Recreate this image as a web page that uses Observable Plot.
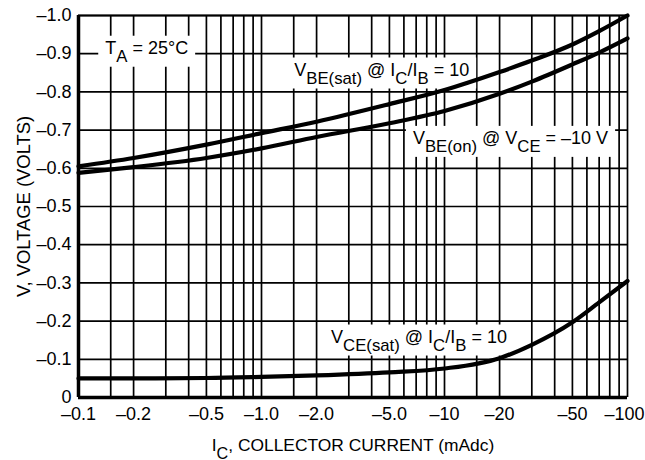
<!DOCTYPE html>
<html>
<head>
<meta charset="utf-8">
<script src="https://cdn.jsdelivr.net/npm/d3@7"></script>
<script src="https://cdn.jsdelivr.net/npm/@observablehq/plot@0.6"></script>
<style>
  html, body { margin: 0; padding: 0; background: #fff; }
</style>
</head>
<body>
<div id="chart"></div>
<script>
// Collector current (mA) sample points
const ic = [-0.1, -0.2, -0.5, -1, -2, -5, -10, -20, -30, -50, -70, -100];
// V_BE(sat) @ IC/IB = 10
const vbeSat = [-0.605, -0.627, -0.662, -0.692, -0.722, -0.768, -0.805, -0.852, -0.882, -0.924, -0.959, -1.0];
// V_BE(on) @ VCE = -10 V
const vbeOn = [-0.588, -0.603, -0.627, -0.652, -0.682, -0.718, -0.750, -0.795, -0.827, -0.872, -0.903, -0.940];
// V_CE(sat) @ IC/IB = 10
const vceSat = [-0.050, -0.050, -0.051, -0.054, -0.058, -0.066, -0.076, -0.103, -0.138, -0.197, -0.249, -0.305];

const seriesNames = ["VBE(sat)", "VBE(on)", "VCE(sat)"];

const xTicks = [-0.1, -0.2, -0.5, -1, -2, -5, -10, -20, -50, -100];
const xTickLabels = ["–0.1", "–0.2", "–0.5", "–1.0", "–2.0", "–5.0", "–10", "–20", "–50", "–100"];
const yTicks = [0, -0.1, -0.2, -0.3, -0.4, -0.5, -0.6, -0.7, -0.8, -0.9, -1.0];
const yTickLabels = ["0", "–0.1", "–0.2", "–0.3", "–0.4", "–0.5", "–0.6", "–0.7", "–0.8", "–0.9", "–1.0"];
const gridMantissas = [1, 1.5, 2, 3, 4, 5, 6, 7, 8, 9];
const gridDecades = [-0.1, -1, -10];

const annoText = ["T_{A} = 25°C", "V_{BE(sat)} @ I_{C}/I_{B} = 10", "V_{BE(on)} @ V_{CE} = –10 V", "V_{CE(sat)} @ I_{C}/I_{B} = 10"];
const annoX = [-0.14, -1.51, -6.72, -2.40];
const annoY = [-0.915, -0.858, -0.679, -0.159];

const xLabel = "I_{C}, COLLECTOR CURRENT (mAdc)";
const yLabel = "V, VOLTAGE (VOLTS)";

// build tables
const xGrid = gridDecades.flatMap(d => gridMantissas.map(m => d * m)).concat([-100]);
const seriesValues = [vbeSat, vbeOn, vceSat];
const rows = seriesValues.flatMap((vals, s) => ic.map((x, i) => ({series: seriesNames[s], ic: x, v: vals[i]})));
const annos = annoText.map((t, i) => ({text: t, x: annoX[i], y: annoY[i]}));

const FONT = "'Liberation Sans', Arial, Helvetica, sans-serif";

const chart = Plot.plot({
  width: 645,
  height: 460,
  marginLeft: 78,
  marginRight: 18,
  marginTop: 15,
  marginBottom: 63,
  style: {fontFamily: FONT, fontSize: "18px", color: "black", background: "white"},
  x: {type: "log", domain: [-0.1, -100]},
  y: {domain: [0, -1.0]},
  marks: [
    Plot.gridX(xGrid, {stroke: "black", strokeOpacity: 1, strokeWidth: 1.7}),
    Plot.gridY(yTicks, {stroke: "black", strokeOpacity: 1, strokeWidth: 1.7}),
    Plot.ruleX([-0.1], {stroke: "black", strokeWidth: 3.5}),
    Plot.ruleY([0], {stroke: "black", strokeWidth: 3.5}),
    Plot.ruleY([-1.0], {stroke: "black", strokeWidth: 2.2}),
    Plot.line(rows, {x: "ic", y: "v", z: "series", stroke: "black", strokeWidth: 4.2, curve: "monotone-x", className: "curves"}),
    Plot.text(annos, {x: "x", y: "y", text: "text", textAnchor: "start", lineAnchor: "middle", fill: "black", fontSize: 18, className: "annos"}),
    Plot.axisX(xTicks, {
      ticks: 1000,
      tickSize: 0, tickPadding: 10, fontSize: 18,
      tickFormat: d => xTickLabels[xTicks.indexOf(d)],
      label: xLabel, labelAnchor: "center", labelOffset: 53, labelArrow: "none"
    }),
    Plot.axisY(yTicks, {
      tickSize: 0, tickPadding: 7, fontSize: 18,
      tickFormat: d => yTickLabels[yTicks.indexOf(d)],
      label: yLabel, labelAnchor: "center", labelOffset: 62, labelArrow: "none"
    })
  ]
});

document.getElementById("chart").appendChild(chart);

const SVGNS = "http://www.w3.org/2000/svg";

// axis title sizes and edge label nudge
chart.querySelectorAll("text").forEach(t => {
  if (t.textContent === xLabel) t.setAttribute("font-size", "17.4");
  if (t.textContent === yLabel) t.setAttribute("font-size", "18.4");
  if (t.textContent === xTickLabels[xTickLabels.length - 1]) t.setAttribute("dx", "-3");
});

// subscripts: convert "_{...}" into shifted tspans
chart.querySelectorAll("text").forEach(t => {
  const s = t.textContent;
  if (!s.includes("_{")) return;
  while (t.firstChild) t.removeChild(t.firstChild);
  const parts = s.split(/(_\{[^}]*\})/).filter(p => p.length);
  let down = false;
  parts.forEach(p => {
    const ts = document.createElementNS(SVGNS, "tspan");
    if (p.startsWith("_{")) {
      ts.textContent = p.slice(2, -1);
      ts.setAttribute("font-size", "93%");
      if (!down) { ts.setAttribute("dy", "8"); down = true; }
    } else {
      ts.textContent = p;
      if (down) { ts.setAttribute("dy", "-8"); down = false; }
    }
    t.appendChild(ts);
  });
});

// white boxes behind the annotations (sized from the rendered text)
const svgRect = chart.getBoundingClientRect();
const curveG = chart.querySelector("g.curves");
const annoG = chart.querySelector("g.annos");
if (annoG && curveG) {
  const boxG = document.createElementNS(SVGNS, "g");
  annoG.querySelectorAll("text").forEach(t => {
    const r = t.getBoundingClientRect();
    const rect = document.createElementNS(SVGNS, "rect");
    rect.setAttribute("x", r.left - svgRect.left - 7);
    rect.setAttribute("y", r.top - svgRect.top - 2);
    rect.setAttribute("width", r.width + 14);
    rect.setAttribute("height", r.height + 3);
    rect.setAttribute("fill", "white");
    boxG.appendChild(rect);
  });
  curveG.parentNode.insertBefore(boxG, curveG);
}
</script>
</body>
</html>
